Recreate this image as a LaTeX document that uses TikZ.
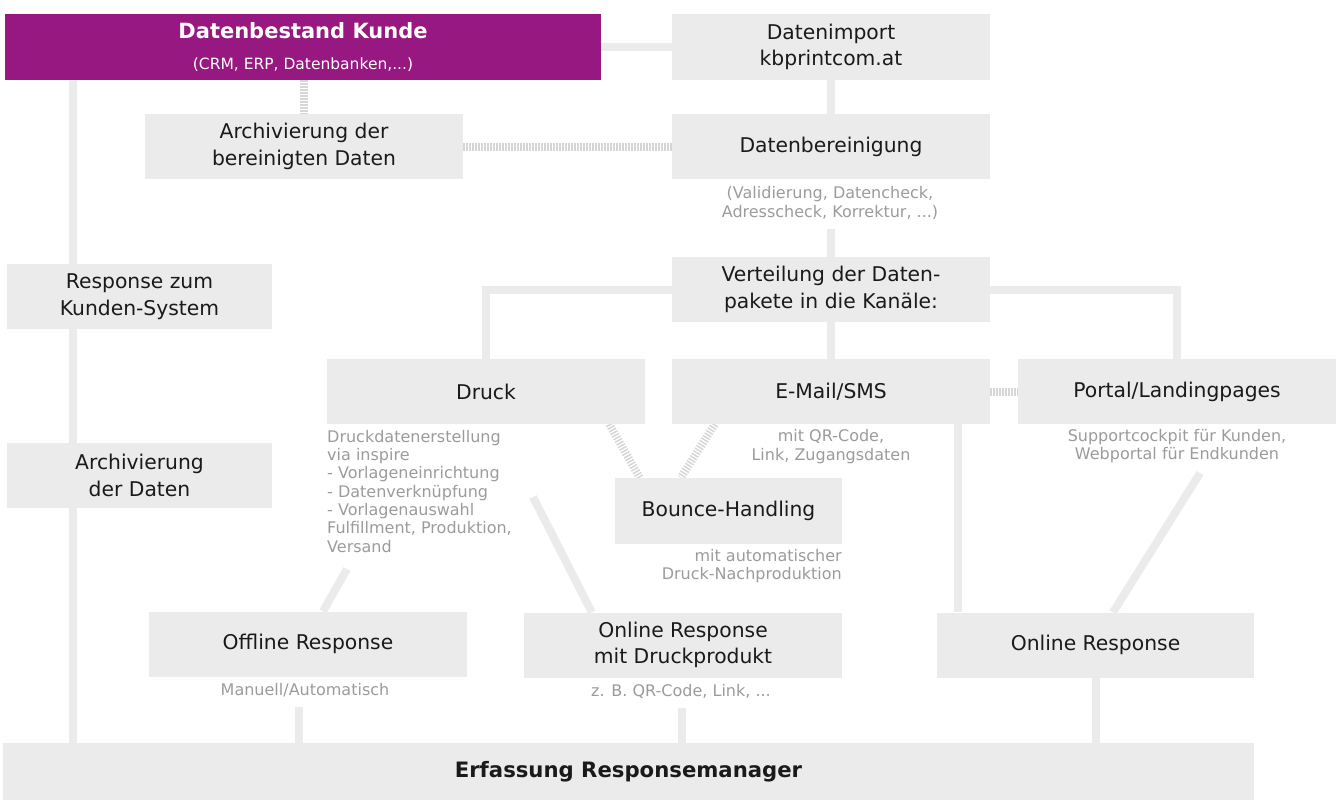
\documentclass[tikz,border=0pt]{standalone}
\usepackage{fontspec}
\setmainfont{DejaVu Sans}
\usetikzlibrary{calc,backgrounds}
\definecolor{kbmagenta}{RGB}{150,24,128}
\definecolor{kbbox}{RGB}{235,235,235}
\definecolor{kbhatch}{RGB}{214,214,214}
\definecolor{kbnote}{RGB}{155,155,155}
\definecolor{kbtext}{RGB}{26,26,26}

\begin{document}
\begin{tikzpicture}[x=1pt,y=-1pt,
  box/.style={fill=kbbox,text=kbtext,align=center,inner sep=0pt,minimum width=318pt,minimum height=65pt,font=\fontsize{20.3}{26.5}\selectfont},
  note/.style={text=kbnote,inner sep=0pt,align=center,font=\fontsize{16}{18.3}\selectfont},
  link/.style={draw=kbbox,line width=8pt},
  hatch/.style={draw=kbhatch,line width=8pt,dash pattern=on 1.5pt off 1.5pt}]
  \useasboundingbox (0,0) rectangle (1341,800);

  \node[box,fill=kbmagenta,text=white,minimum width=596pt,minimum height=66pt] (kunde) at (303,47)
    {{\fontsize{21}{26}\selectfont\bfseries Datenbestand Kunde}\\[4pt]{\fontsize{15.5}{17}\selectfont(CRM, ERP, Datenbanken,...)}};
  \node[box] (imp) at (831,47) {Datenimport\\kbprintcom.at};
  \node[box] (archb) at (304,146.5) {Archivierung der\\bereinigten Daten};
  \node[box] (bereinig) at (831,146.5) {Datenbereinigung};
  \node[note] (nbereinig) at (830,203) {(Validierung, Datencheck,\\Adresscheck, Korrektur, ...)};
  \node[box,minimum width=265pt] (respk) at (139.5,296.5) {Response zum\\Kunden-System};
  \node[box] (vert) at (831,289.5) {Verteilung der Daten-\\pakete in die Kanäle:};
  \node[box] (druck) at (486,391.5) {Druck};
  \node[box] (mail) at (831,391.5) {E-Mail/SMS};
  \node[box] (portal) at (1177,391.5) {Portal/Landingpages};
  \node[note,align=left,anchor=north west] (ndruck) at (327,430)
    {Druckdatenerstellung\\via inspire\\- Vorlageneinrichtung\\- Datenverknüpfung\\- Vorlagenauswahl\\Fulfillment, Produktion,\\Versand};
  \node[note] (nmail) at (831,446.5) {mit QR-Code,\\Link, Zugangsdaten};
  \node[note] (nportal) at (1177,446) {Supportcockpit für Kunden,\\Webportal für Endkunden};
  \node[box,minimum width=265pt] (archd) at (139.5,475.5) {Archivierung\\der Daten};
  \node[box,minimum width=227pt,minimum height=66pt] (bounce) at (728.5,511) {Bounce-Handling};
  \node[note,align=right,anchor=east] (nbounce) at (842,566) {mit automatischer\\Druck-Nachproduktion};
  \node[box] (offl) at (308,644) {Offline Response};
  \node[box] (onld) at (683,645) {Online Response\\mit Druckprodukt};
  \node[box,minimum width=317pt] (onl) at (1095.5,645) {Online Response};
  \node[note] (noffl) at (305,690) {Manuell/Automatisch};
  \node[note] (nonld) at (681,691) {z. B. QR-Code, Link, ...};
  \node[box,minimum width=1251pt,minimum height=57pt,font=\fontsize{21.2}{26}\selectfont\bfseries] (erf) at (628.5,771.5)
    {Erfassung Responsemanager};

  \begin{scope}[on background layer]
    \coordinate (lane) at (73,0);
    \coordinate (d1) at (533,497);
    \coordinate (o0) at (347,569);
    \draw[link] (kunde.south -| lane) -- (erf.north -| lane);
    \draw[link] (kunde.east) -- (imp.west);
    \draw[link] (imp.south) -- (bereinig.north);
    \draw[link,shorten <=10pt] (vert.north |- nbereinig.south) -- (vert.north);
    \draw[link] (druck.north) |- (vert.west);
    \draw[link] (portal.north) |- (vert.east);
    \draw[link] (vert.south) -- (mail.north);
    \draw[link] ($(mail.south east)+(-32,0)$) coordinate (m1) -- (m1 |- onl.north);
    \draw[link] (d1) -- ($(onld.north west)+(68,0)$);
    \draw[link] (o0) -- ($(offl.north)+(15,0)$);
    \draw[link] ($(nportal.south)+(23,10)$) -- ($(onl.north)+(17.5,0)$);
    \draw[link] ($(noffl.south)+(-6,10)$) coordinate (o1) -- (o1 |- erf.north);
    \draw[link] ($(nonld.south)+(1,10)$) coordinate (o2) -- (o2 |- erf.north);
    \draw[link] (onl.south) -- (onl.south |- erf.north);
    \draw[hatch] (archb.north |- kunde.south) -- (archb.north);
    \draw[hatch] (archb.east) -- (bereinig.west);
    \draw[hatch] (mail.east) -- (portal.west);
    \draw[hatch] ($(druck.south east)+(-36,0)$) -- ($(bounce.north west)+(25,0)$);
    \draw[hatch] ($(mail.south west)+(43,0)$) -- ($(bounce.north west)+(66,0)$);
  \end{scope}
\end{tikzpicture}
\end{document}
